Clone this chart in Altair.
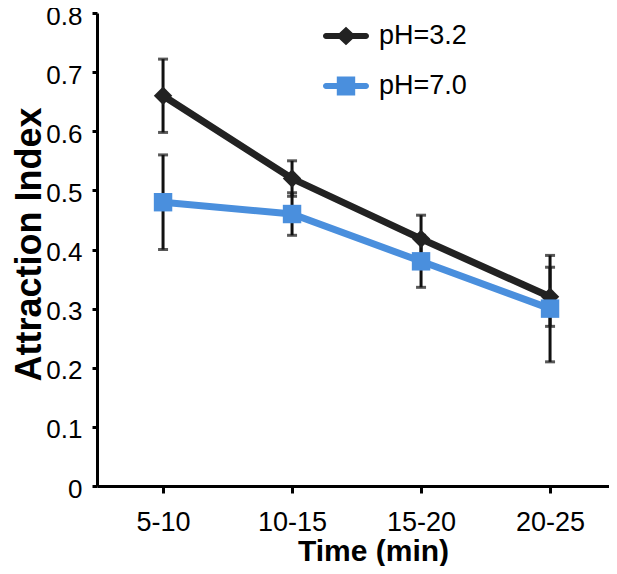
import altair as alt
import pandas as pd

# ---- data ----
categories = ["5-10", "10-15", "15-20", "20-25"]
series_names = ["pH=3.2", "pH=7.0"]
ph32_mean = [0.66, 0.52, 0.418, 0.32]
ph32_err = [0.062, 0.03, 0.04, 0.05]
ph70_mean = [0.48, 0.46, 0.38, 0.30]
ph70_err = [0.08, 0.036, 0.044, 0.09]
y_ticks = [0, 0.1, 0.2, 0.3, 0.4, 0.5, 0.6, 0.7, 0.8]

colors = ["#222222", "#4a8fdd"]
FONT = "Liberation Sans"

rows = []
for name, means, errs in [(series_names[0], ph32_mean, ph32_err),
                          (series_names[1], ph70_mean, ph70_err)]:
    for i, (c, m, e) in enumerate(zip(categories, means, errs)):
        rows.append({"series": name, "time": c, "idx": i, "value": m,
                     "lo": m - e, "hi": m + e})
df = pd.DataFrame(rows)

label_expr = "[" + ",".join("'%s'" % c for c in categories) + "][datum.value]"

x_enc = alt.X(
    "idx:Q",
    scale=alt.Scale(domain=[-0.512, 3.457], nice=False, zero=False),
    axis=alt.Axis(
        values=list(range(len(categories))),
        labelExpr=label_expr,
        title="Time (min)",
        titleFontSize=30, titleFontWeight="bold", titleFont=FONT,
        titleX=276, titleY=74, titleBaseline="alphabetic",
        labelFontSize=27, labelFont=FONT, labelColor="black",
        labelBaseline="alphabetic", labelPadding=37,
        tickSize=7, tickWidth=3, tickColor="black",
        domainWidth=3, domainColor="black", grid=False,
    ),
)
y_scale = alt.Scale(domain=[0, 0.8], nice=False, zero=True)
y_axis = alt.Axis(
    values=y_ticks, format=".1~f",
    title="Attraction Index",
    titleFontSize=36, titleFontWeight="bold", titleFont=FONT,
    titleX=-57, titleY=231, titleBaseline="alphabetic",
    labelFontSize=26, labelFont=FONT, labelColor="black",
    labelPadding=10, labelOffset=3,
    tickSize=5, tickWidth=3, tickColor="black",
    domainWidth=3, domainColor="black", grid=False,
)

color_scale = alt.Scale(domain=series_names, range=colors)

base = alt.Chart(df)

err_rule = base.mark_rule(color="#111111", strokeWidth=3).encode(
    x=x_enc, y=alt.Y("lo:Q", scale=y_scale, axis=y_axis), y2="hi:Q"
)
cap_lo = base.mark_tick(color="#111111", thickness=3, size=10, orient="horizontal").encode(
    x="idx:Q", y="lo:Q"
)
cap_hi = base.mark_tick(color="#111111", thickness=3, size=10, orient="horizontal").encode(
    x="idx:Q", y="hi:Q"
)

lines = base.mark_line(strokeWidth=7).encode(
    x="idx:Q", y="value:Q",
    color=alt.Color("series:N", scale=color_scale, legend=None),
    order="idx:Q",
)

points = base.mark_point(filled=True, opacity=1, size=340).encode(
    x="idx:Q", y="value:Q",
    color=alt.Color("series:N", scale=color_scale, legend=None),
    shape=alt.Shape("series:N",
                    scale=alt.Scale(domain=series_names, range=["diamond", "square"]),
                    legend=None),
)

# legend symbols: line with marker (unit coords, scaled by legend symbol size)
path_diamond = ("M-0.87,-0.13L0.87,-0.13A0.13,0.13 0 0 1 0.87,0.13L-0.87,0.13"
                "A0.13,0.13 0 0 1 -0.87,-0.13Z M0,-0.4L0.43,0L0,0.4L-0.43,0Z")
path_square = ("M-0.87,-0.13L0.87,-0.13A0.13,0.13 0 0 1 0.87,0.13L-0.87,0.13"
               "A0.13,0.13 0 0 1 -0.87,-0.13Z M-0.4,-0.41L0.4,-0.41L0.4,0.41L-0.4,0.41Z")

legend_def = alt.Legend(
    title=None, orient="none", legendX=226, legendY=0,
    symbolSize=2116, symbolStrokeWidth=0, symbolOpacity=1,
    labelFontSize=27, labelFont=FONT, labelColor="black",
    labelOffset=10, rowPadding=14, padding=0,
)
legend_layer = base.mark_point(filled=True, opacity=1, size=0).encode(
    x="idx:Q", y="value:Q",
    color=alt.Color("series:N", scale=color_scale, legend=legend_def),
    shape=alt.Shape("series:N",
                    scale=alt.Scale(domain=series_names, range=[path_diamond, path_square]),
                    legend=legend_def),
)

chart = (
    alt.layer(err_rule, cap_lo, cap_hi, lines, points, legend_layer)
    .resolve_scale(color="independent", shape="independent")
    .properties(
        width=512, height=473,
        autosize=alt.AutoSizeParams(type="none"),
        padding={"left": 89, "top": 5, "right": 0, "bottom": 80},
        background="white",
    )
    .configure_view(stroke=None)
)

chart.save("out.html", embed_options={"renderer": "svg", "actions": False})
